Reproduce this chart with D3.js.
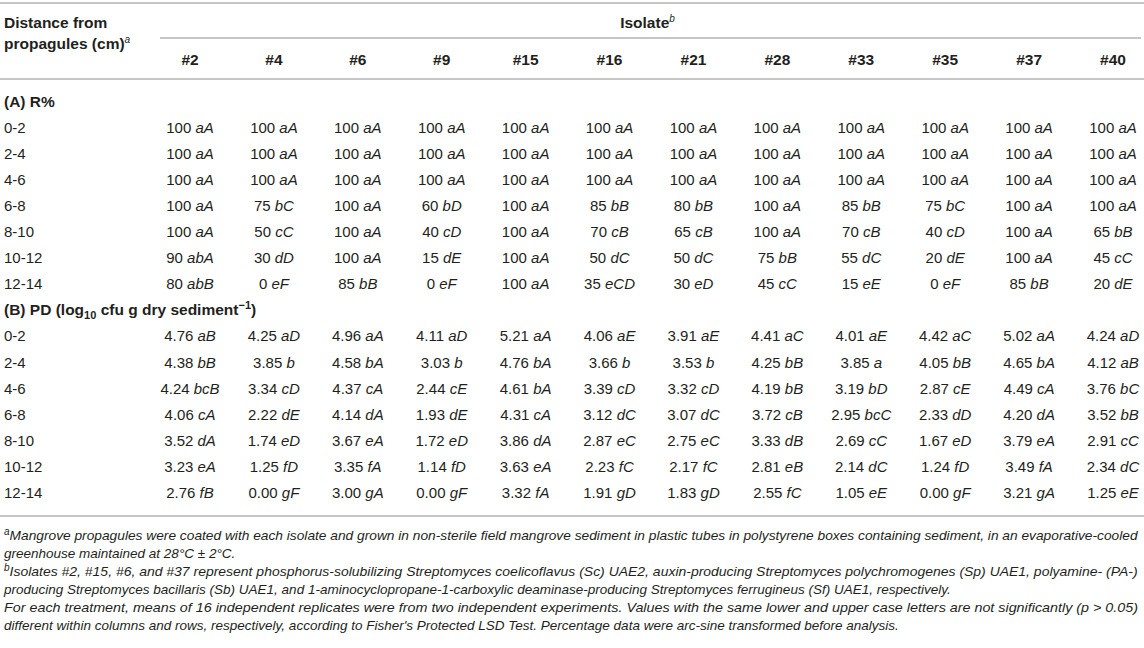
<!DOCTYPE html>
<html><head><meta charset="utf-8">
<script src="https://cdn.jsdelivr.net/npm/d3@7"></script>
<style>
html,body{margin:0;padding:0;background:#fff;}
svg{display:block;font-family:"Liberation Sans",Arial,Helvetica,sans-serif;}
</style></head>
<body><svg id="c" width="1144" height="648"></svg>
<script>
const isolates = ["#2","#4","#6","#9","#15","#16","#21","#28","#33","#35","#37","#40"];
const distances = ["0-2","2-4","4-6","6-8","8-10","10-12","12-14"];

const rValues = [
 [100,100,100,100,100,100,100,100,100,100,100,100],
 [100,100,100,100,100,100,100,100,100,100,100,100],
 [100,100,100,100,100,100,100,100,100,100,100,100],
 [100,75,100,60,100,85,80,100,85,75,100,100],
 [100,50,100,40,100,70,65,100,70,40,100,65],
 [90,30,100,15,100,50,50,75,55,20,100,45],
 [80,0,85,0,100,35,30,45,15,0,85,20]
];
const rLetters = [
 ["aA","aA","aA","aA","aA","aA","aA","aA","aA","aA","aA","aA"],
 ["aA","aA","aA","aA","aA","aA","aA","aA","aA","aA","aA","aA"],
 ["aA","aA","aA","aA","aA","aA","aA","aA","aA","aA","aA","aA"],
 ["aA","bC","aA","bD","aA","bB","bB","aA","bB","bC","aA","aA"],
 ["aA","cC","aA","cD","aA","cB","cB","aA","cB","cD","aA","bB"],
 ["abA","dD","aA","dE","aA","dC","dC","bB","dC","dE","aA","cC"],
 ["abB","eF","bB","eF","aA","eCD","eD","cC","eE","eF","bB","dE"]
];
const pdValues = [
 [4.76,4.25,4.96,4.11,5.21,4.06,3.91,4.41,4.01,4.42,5.02,4.24],
 [4.38,3.85,4.58,3.03,4.76,3.66,3.53,4.25,3.85,4.05,4.65,4.12],
 [4.24,3.34,4.37,2.44,4.61,3.39,3.32,4.19,3.19,2.87,4.49,3.76],
 [4.06,2.22,4.14,1.93,4.31,3.12,3.07,3.72,2.95,2.33,4.20,3.52],
 [3.52,1.74,3.67,1.72,3.86,2.87,2.75,3.33,2.69,1.67,3.79,2.91],
 [3.23,1.25,3.35,1.14,3.63,2.23,2.17,2.81,2.14,1.24,3.49,2.34],
 [2.76,0.00,3.00,0.00,3.32,1.91,1.83,2.55,1.05,0.00,3.21,1.25]
];
const pdLetters = [
 ["aB","aD","aA","aD","aA","aE","aE","aC","aE","aC","aA","aD"],
 ["bB","b","bA","b","bA","b","b","bB","a","bB","bA","aB"],
 ["bcB","cD","cA","cE","bA","cD","cD","bB","bD","cE","cA","bC"],
 ["cA","dE","dA","dE","cA","dC","dC","cB","bcC","dD","dA","bB"],
 ["dA","eD","eA","eD","dA","eC","eC","dB","cC","eD","eA","cC"],
 ["eA","fD","fA","fD","eA","fC","fC","eB","dC","fD","fA","dC"],
 ["fB","gF","gA","gF","fA","gD","gD","fC","eE","gF","gA","eE"]
];
const footnotes = [
 {sup:"a", text:"Mangrove propagules were coated with each isolate and grown in non-sterile field mangrove sediment in plastic tubes in polystyrene boxes containing sediment, in an evaporative-cooled", full:true},
 {sup:"", text:"greenhouse maintained at 28°C ± 2°C.", full:false},
 {sup:"b", text:"Isolates #2, #15, #6, and #37 represent phosphorus-solubilizing Streptomyces coelicoflavus (Sc) UAE2, auxin-producing Streptomyces polychromogenes (Sp) UAE1, polyamine- (PA-)", full:true},
 {sup:"", text:"producing Streptomyces bacillaris (Sb) UAE1, and 1-aminocyclopropane-1-carboxylic deaminase-producing Streptomyces ferrugineus (Sf) UAE1, respectively.", full:false},
 {sup:"", text:"For each treatment, means of 16 independent replicates were from two independent experiments. Values with the same lower and upper case letters are not significantly (p > 0.05)", full:true},
 {sup:"", text:"different within columns and rows, respectively, according to Fisher's Protected LSD Test. Percentage data were arc-sine transformed before analysis.", full:false}
];

const W = 1144, H = 648;
const ink = "#231f20", rule = "#b3b3b3";
const svg = d3.select("#c");

const x = d3.scalePoint().domain(isolates).range([190, 1113]);
const slots = ["A"].concat(distances.map(d=>"A"+d), ["B"], distances.map(d=>"B"+d));
const y = d3.scalePoint().domain(slots).range([101, 101 + 26.1*15]);
const fy = d3.scalePoint().domain(d3.range(footnotes.length)).range([535, 625]);

function hline(y0, x0, x1){
  svg.append("line").attr("x1",x0).attr("x2",x1).attr("y1",y0).attr("y2",y0)
    .attr("stroke",rule).attr("stroke-width",1.6);
}
hline(3, 0, W);
hline(38, 160, W-3);
hline(79, 0, W);
hline(516, 0, W);

const fs = 15, bfs = 15.5;
// header
svg.append("text").attr("x",4).attr("y",28).attr("font-size",bfs).attr("font-weight","bold").attr("fill",ink).text("Distance from");
const h2 = svg.append("text").attr("x",4).attr("y",49).attr("font-size",bfs).attr("font-weight","bold").attr("fill",ink);
h2.append("tspan").text("propagules (cm)");
h2.append("tspan").attr("dy",-6).attr("font-size",10).attr("font-weight","normal").attr("font-style","italic").text("a");

const iso = svg.append("text").attr("x",(x.range()[0]+x.range()[1])/2 - 4).attr("y",28).attr("text-anchor","middle")
  .attr("font-size",bfs).attr("font-weight","bold").attr("fill",ink);
iso.append("tspan").text("Isolate");
iso.append("tspan").attr("dy",-6).attr("font-size",10).attr("font-weight","normal").attr("font-style","italic").text("b");

svg.append("g").selectAll("text").data(isolates).join("text")
  .attr("x",d=>x(d)).attr("y",64.5).attr("text-anchor","middle")
  .attr("font-size",bfs).attr("font-weight","bold").attr("fill",ink).text(d=>d);

// section headers
svg.append("text").attr("x",4).attr("y",y("A")+5.5).attr("font-size",bfs).attr("font-weight","bold").attr("fill",ink).text("(A) R%");
const bh = svg.append("text").attr("x",4).attr("y",y("B")+5.5).attr("font-size",bfs).attr("font-weight","bold").attr("fill",ink);
bh.append("tspan").text("(B) PD (log");
bh.append("tspan").attr("dy",4).attr("font-size",11).text("10");
bh.append("tspan").attr("dy",-4).text(" cfu g dry sediment");
bh.append("tspan").attr("dy",-6).attr("font-size",11).text("\u22121");
bh.append("tspan").attr("dy",6).text(")");

// rows
function drawBlock(prefix, vals, lets, fmt){
  distances.forEach((d,i)=>{
    const yy = y(prefix+d)+5.5;
    svg.append("text").attr("x",4).attr("y",yy).attr("font-size",fs).attr("fill",ink).text(d);
    const g = svg.append("g");
    const cells = isolates.map((iso,j)=>({iso, v:vals[i][j], l:lets[i][j]}));
    const t = g.selectAll("text").data(cells).join("text")
      .attr("x",c=>x(c.iso)).attr("y",yy).attr("text-anchor","middle")
      .attr("font-size",fs).attr("fill",ink);
    t.append("tspan").text(c=>fmt(c.v)+" ");
    t.append("tspan").attr("font-style","italic").text(c=>c.l);
  });
}
drawBlock("A", rValues, rLetters, d3.format("d"));
drawBlock("B", pdValues, pdLetters, d3.format(".2f"));

// footnotes
footnotes.forEach((f,i)=>{
  const t = svg.append("text").attr("x",4).attr("y",fy(i)+5).attr("font-size",13.5)
    .attr("font-style","italic").attr("fill",ink);
  if(f.sup) t.append("tspan").attr("dy",-5).attr("font-size",10).text(f.sup);
  const main = t.append("tspan").attr("dy", f.sup?5:0).text(f.text);
  if(f.full){
    const avail = (W-6) - 4 - (f.sup?6:0);
    main.attr("textLength",avail).attr("lengthAdjust","spacingAndGlyphs");
  }
});
</script></body></html>
